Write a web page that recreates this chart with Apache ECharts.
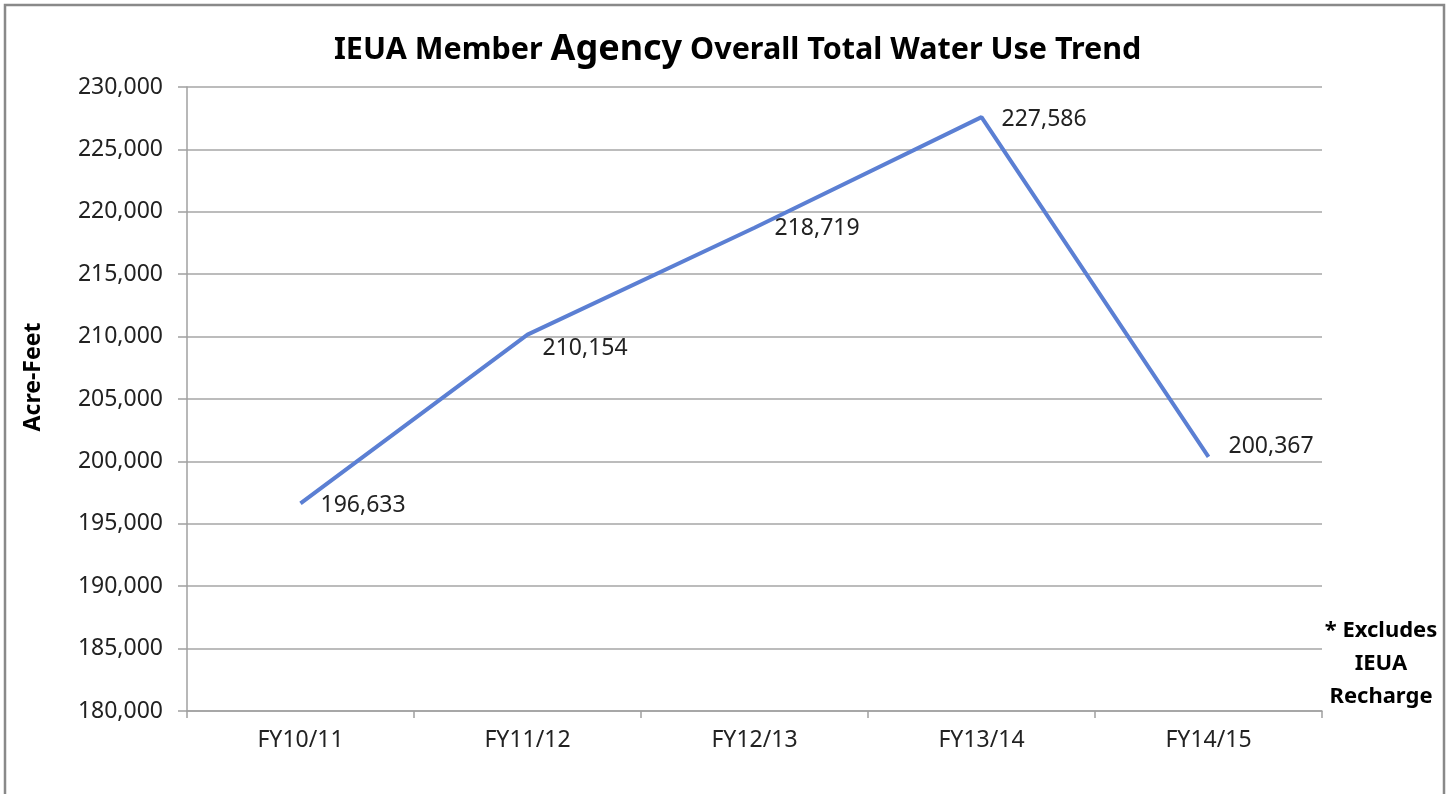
<!DOCTYPE html>
<html>
<head>
<meta charset="utf-8">
<script src="https://cdn.jsdelivr.net/npm/echarts@6/dist/echarts.min.js"></script>
<style>
html,body{margin:0;padding:0;background:#fff;}
#chart{width:1452px;height:794px;}
</style>
</head>
<body>
<div id="chart"></div>
<script>
const categories = ['FY10/11', 'FY11/12', 'FY12/13', 'FY13/14', 'FY14/15'];
const waterUse = [196633, 210154, 218719, 227586, 200367];
const labelOffsets = [[0, 2], [-5, 14], [0, 1], [0, 2], [0, -10]];
const yMin = 180000, yMax = 230000, yStep = 5000;

const fmt = v => v.toString().replace(/\B(?=(\d{3})+(?!\d))/g, ',');
const font = '"Noto Sans", "Open Sans", sans-serif';

const chart = echarts.init(document.getElementById('chart'));
chart.setOption({
  animation: false,
  backgroundColor: '#fff',
  title: {
    text: '{a|IEUA Member }{b|Agency}{a| Overall Total Water Use Trend}',
    left: 329,
    top: 27,
    textStyle: {
      rich: {
        a: { fontFamily: font, fontSize: 30.5, fontWeight: 'bold', color: '#000' },
        b: { fontFamily: font, fontSize: 36, fontWeight: 'bold', color: '#000' }
      }
    }
  },
  graphic: [
    {
      type: 'rect',
      shape: { x: 5, y: 5, width: 1439, height: 800 },
      style: { fill: 'none', stroke: '#898989', lineWidth: 2.5 },
      silent: true
    },
    {
      type: 'text',
      x: 1381,
      y: 614,
      style: {
        text: '* Excludes\nIEUA\nRecharge',
        align: 'center',
        verticalAlign: 'top',
        fontFamily: font,
        fontSize: 22,
        fontWeight: 'bold',
        lineHeight: 33,
        fill: '#000'
      }
    },
    {
      type: 'text',
      x: 33,
      y: 377,
      rotation: Math.PI / 2,
      style: {
        text: 'Acre-Feet',
        align: 'center',
        verticalAlign: 'middle',
        fontFamily: font,
        fontSize: 23,
        fontWeight: 'bold',
        fill: '#000'
      }
    }
  ],
  grid: { left: 187, right: 130, top: 87, bottom: 83, containLabel: false },
  xAxis: {
    type: 'category',
    data: categories,
    boundaryGap: true,
    axisLine: { show: true, lineStyle: { color: '#a0a0a0', width: 1.5 } },
    axisTick: { show: true, length: 7, lineStyle: { color: '#a0a0a0', width: 1.5 } },
    axisLabel: { fontFamily: font, fontSize: 23, color: '#222', margin: 18 },
    splitLine: { show: false }
  },
  yAxis: {
    type: 'value',
    min: yMin,
    max: yMax,
    interval: yStep,
    axisLine: { show: true, lineStyle: { color: '#a0a0a0', width: 1.5 } },
    axisTick: { show: true, length: 9, lineStyle: { color: '#a0a0a0', width: 1.5 } },
    axisLabel: { fontFamily: font, fontSize: 23, color: '#222', margin: 24, formatter: v => fmt(v) },
    splitLine: { show: true, lineStyle: { color: '#a6a6a6', width: 1.5 } }
  },
  series: [{
    type: 'line',
    data: waterUse.map((v, i) => ({
      value: v,
      label: { offset: labelOffsets[i] }
    })),
    symbol: 'circle',
    symbolSize: 0,
    lineStyle: { color: '#5b7fd3', width: 4 },
    itemStyle: { color: '#5b7fd3' },
    label: {
      show: true,
      position: 'right',
      distance: 20,
      fontFamily: font,
      fontSize: 23,
      color: '#222',
      formatter: p => fmt(p.value)
    }
  }]
});
</script>
</body>
</html>
